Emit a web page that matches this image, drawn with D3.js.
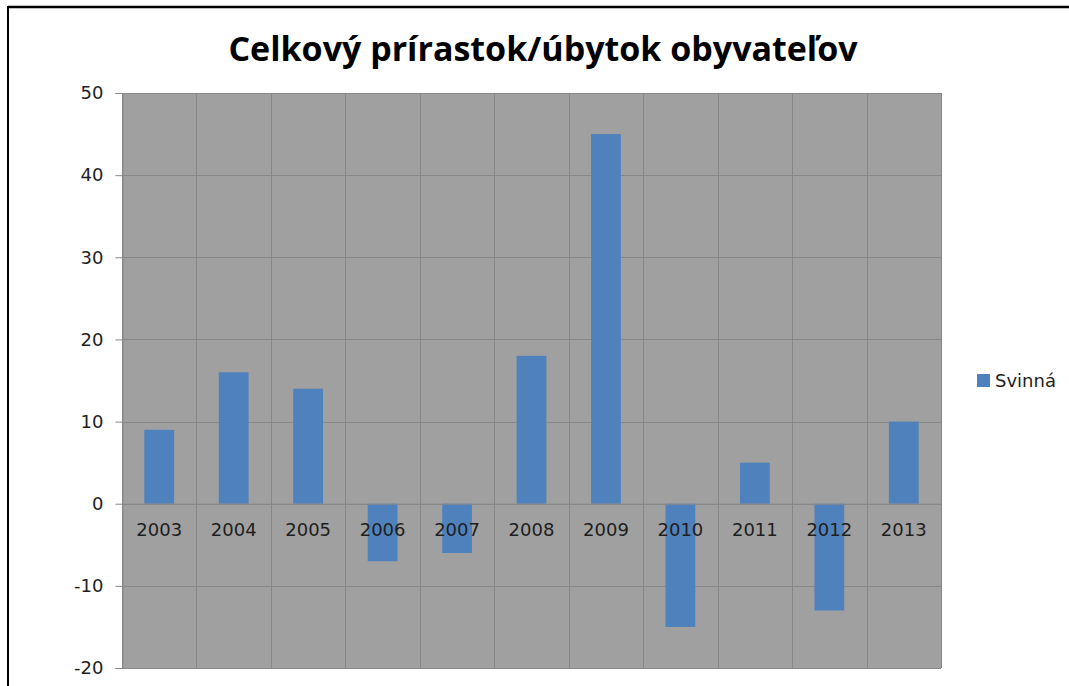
<!DOCTYPE html>
<html><head><meta charset="utf-8">
<script src="https://cdn.jsdelivr.net/npm/d3@7"></script>
<style>body{margin:0;background:#fff;}svg{display:block;}</style>
</head><body>
<script>
const categories = ["2003","2004","2005","2006","2007","2008","2009","2010","2011","2012","2013"];
const values = [9,16,14,-7,-6,18,45,-15,5,-13,10];
const yTicks = [-20,-10,0,10,20,30,40,50];
const seriesName = "Svinná";
const title = "Celkový prírastok/úbytok obyvateľov";

const W = 1069, H = 686;
const svg = d3.select("body").append("svg").attr("width", W).attr("height", H);
svg.append("rect").attr("width", W).attr("height", H).attr("fill", "#fff");
// outer frame (top & left)
svg.append("line").attr("x1", 8).attr("x2", W).attr("y1", 7).attr("y2", 7).attr("stroke", "#000").attr("stroke-width", 2.5);
svg.append("line").attr("x1", 8).attr("x2", 8).attr("y1", 6).attr("y2", H).attr("stroke", "#000").attr("stroke-width", 2);

const L = 122, R = 941, T = 93, B = 668;
const x = d3.scaleBand().domain(categories).range([L, R]).paddingInner(0).paddingOuter(0);
const y = d3.scaleLinear().domain([-20, 50]).range([B, T]);

svg.append("rect").attr("x", L).attr("y", T).attr("width", R - L).attr("height", B - T).attr("fill", "#a0a0a0");

const grid = "#878787";
const font = "'DejaVu Sans', Verdana, sans-serif";
// horizontal gridlines
svg.append("g").selectAll("line").data(yTicks).join("line")
  .attr("x1", L).attr("x2", R).attr("y1", d => Math.round(y(d)) + 0.5).attr("y2", d => Math.round(y(d)) + 0.5)
  .attr("stroke", grid).attr("stroke-width", 1);
// vertical gridlines
const vx = categories.map(c => x(c)).concat([R]);
svg.append("g").selectAll("line").data(vx).join("line")
  .attr("x1", d => Math.round(d) + 0.5).attr("x2", d => Math.round(d) + 0.5).attr("y1", T).attr("y2", B)
  .attr("stroke", grid).attr("stroke-width", 1);

// bars
const bw = x.bandwidth() / 2.5;
svg.append("g").selectAll("rect").data(values).join("rect")
  .attr("x", (d, i) => x(categories[i]) + (x.bandwidth() - bw) / 2)
  .attr("width", bw)
  .attr("y", d => y(Math.max(0, d)))
  .attr("height", d => Math.abs(y(d) - y(0)))
  .attr("fill", "#4f81bd");

// y axis
const yAxis = d3.axisLeft(y).tickValues(yTicks).tickSize(7).tickPadding(12).tickFormat(d => String(d));
const gy = svg.append("g").attr("transform", `translate(${L + 0.5},0)`).call(yAxis);
gy.select(".domain").attr("stroke", grid);
gy.selectAll(".tick line").attr("stroke", grid);
gy.selectAll("text").attr("font-family", font).attr("font-size", 18).attr("fill", "#1e1e1e");

// x labels at zero line
const xAxis = d3.axisBottom(x).tickSize(0).tickPadding(20);
const gx = svg.append("g").attr("transform", `translate(0,${y(0)})`).call(xAxis);
gx.select(".domain").attr("stroke", grid);
gx.selectAll("text").attr("font-family", font).attr("font-size", 18).attr("fill", "#1e1e1e");

// title
svg.append("text").attr("x", 543).attr("y", 61).attr("text-anchor", "middle")
  .attr("font-family", "'Open Sans', 'Liberation Sans', sans-serif").attr("font-weight", "bold").attr("font-size", 34)
  .attr("fill", "#000").text(title);

// legend
const lg = svg.append("g").attr("transform", "translate(977,374)");
lg.append("rect").attr("width", 13).attr("height", 13).attr("fill", "#4f81bd");
lg.append("text").attr("x", 18).attr("y", 13).attr("font-family", font)
  .attr("font-size", 18).attr("fill", "#1e1e1e").text(seriesName);
</script>
</body></html>
